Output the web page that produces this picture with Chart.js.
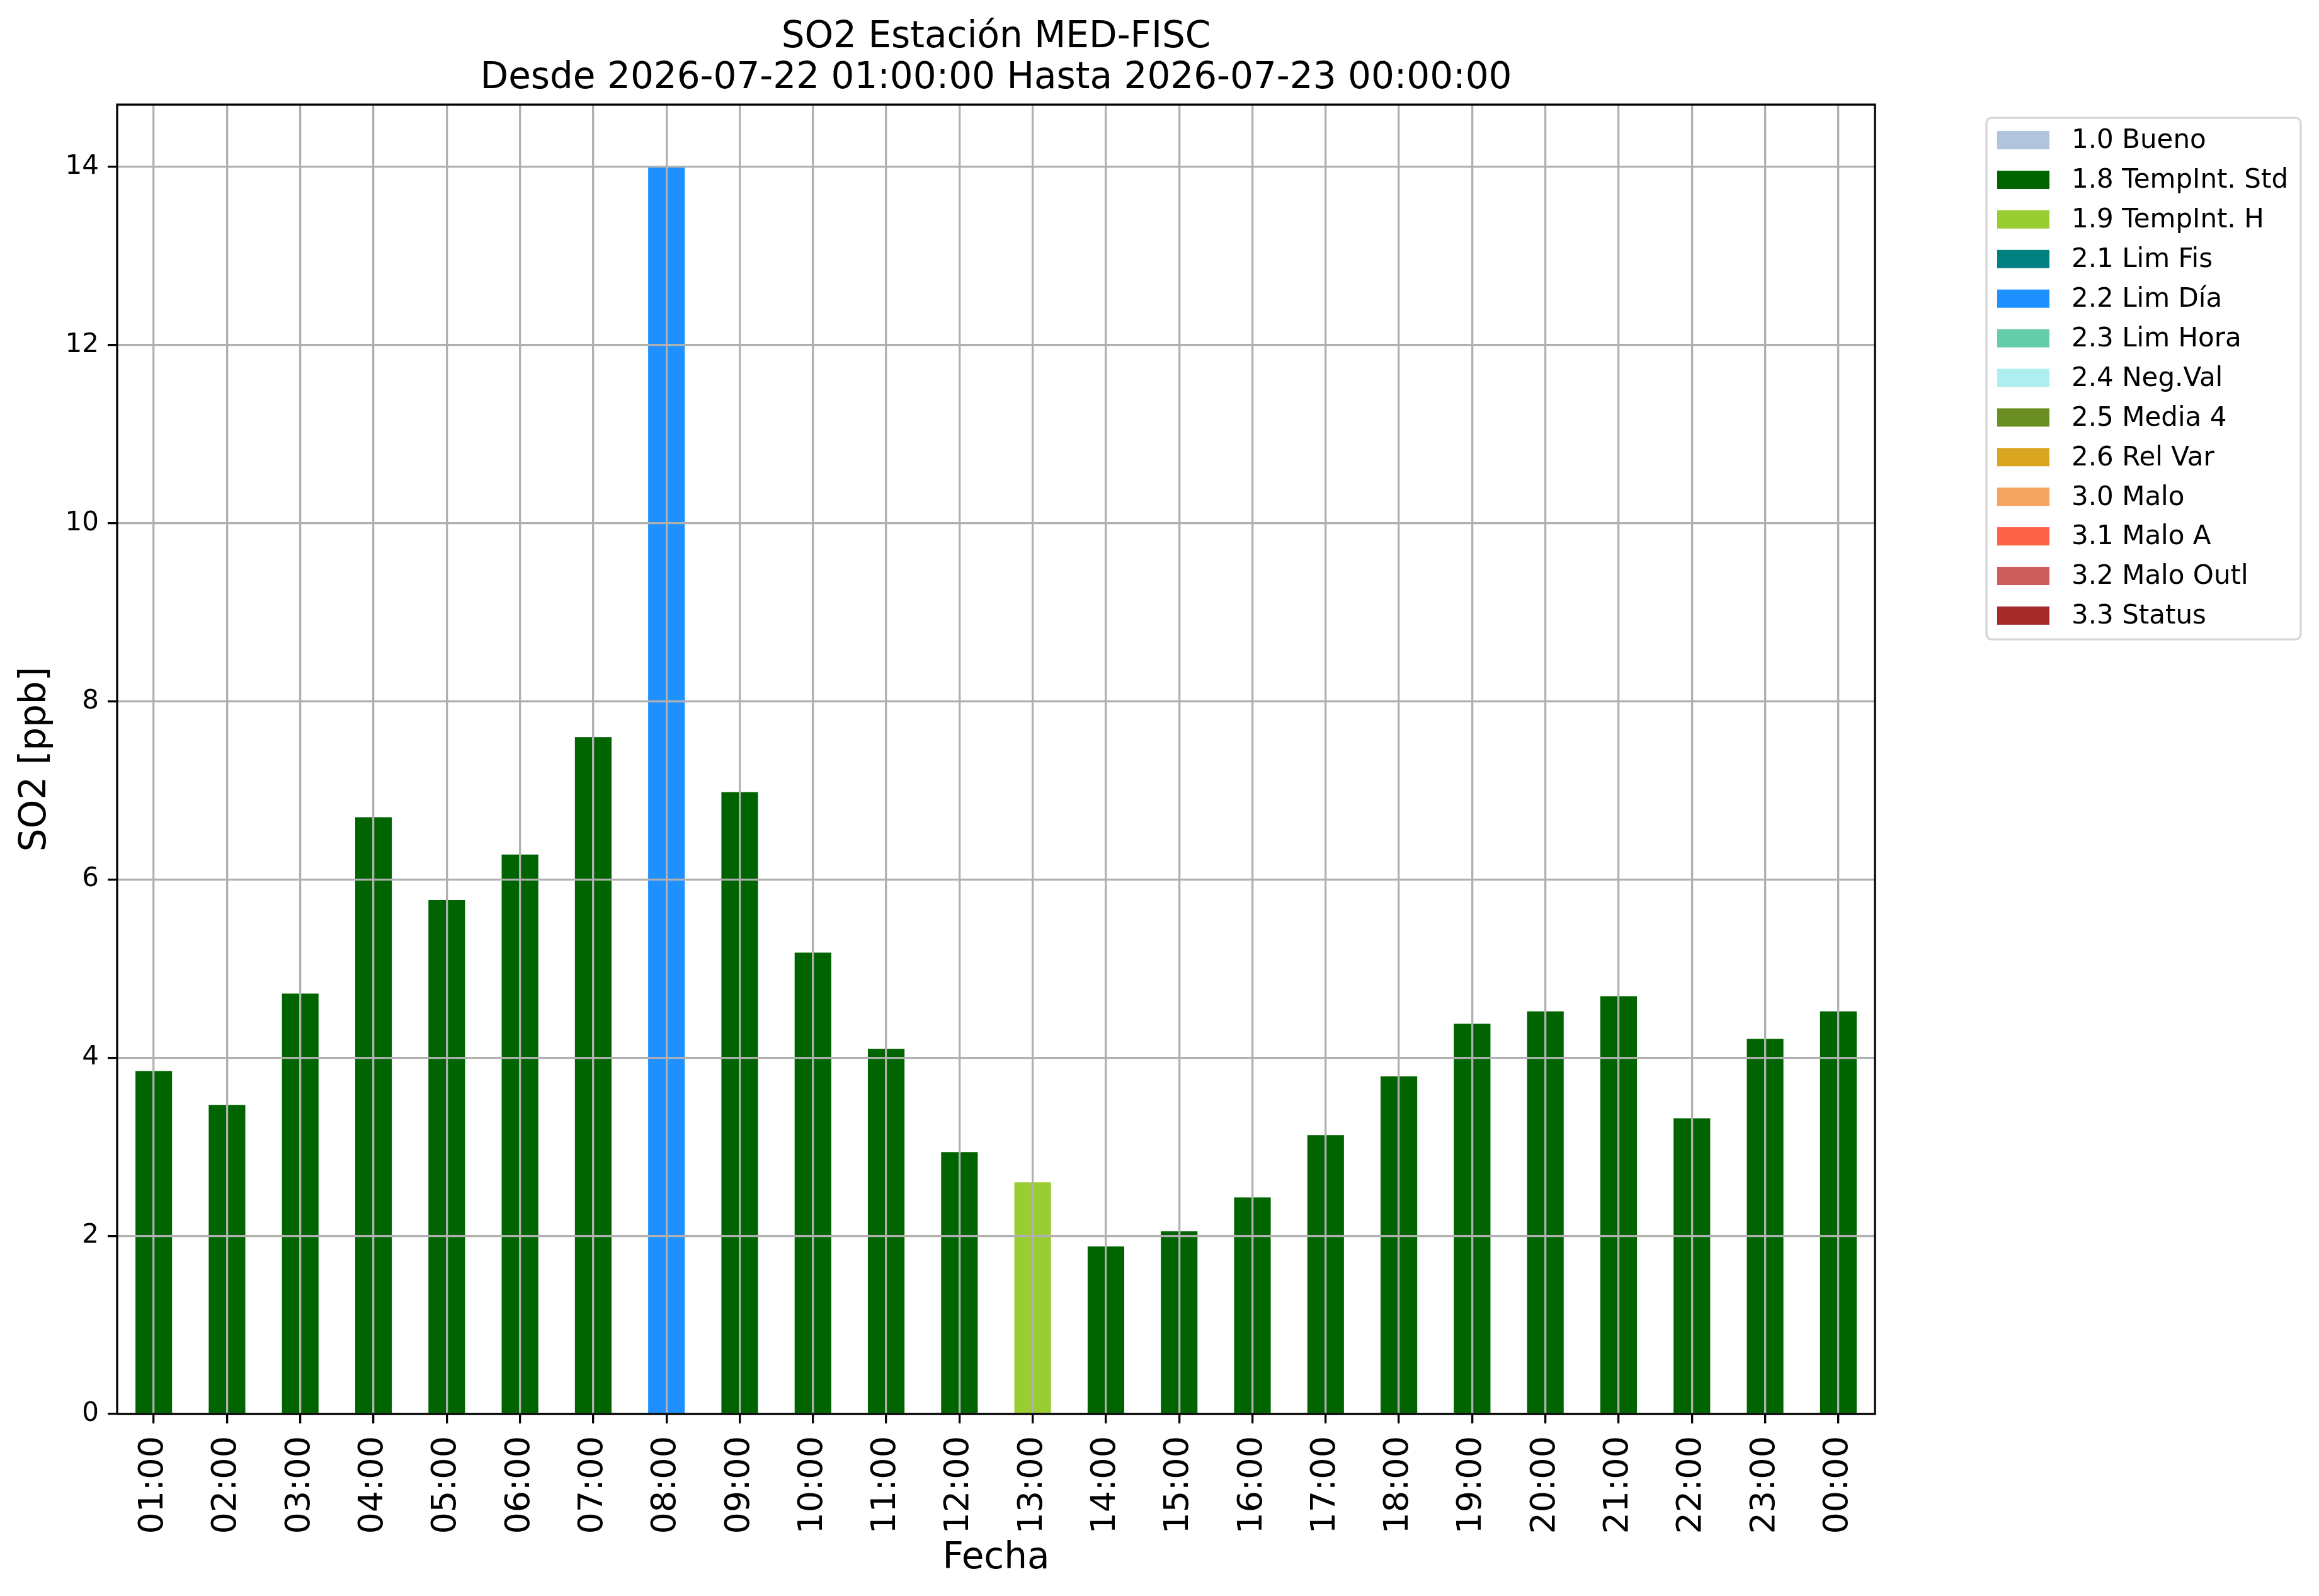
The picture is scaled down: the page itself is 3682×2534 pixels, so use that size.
<!DOCTYPE html>
<html>
<head>
<meta charset="utf-8">
<title>SO2 MED-FISC</title>
<script src="https://cdn.jsdelivr.net/npm/chart.js@4/dist/chart.umd.min.js"></script>
<style>
  html, body { margin: 0; padding: 0; background: #ffffff; }
  #so2Chart { display: block; }
</style>
</head>
<body>
<canvas id="so2Chart" width="3682" height="2534"></canvas>
<script>
// hourly labels for the day
var hours = ["01:00", "02:00", "03:00", "04:00", "05:00", "06:00", "07:00", "08:00",
             "09:00", "10:00", "11:00", "12:00", "13:00", "14:00", "15:00", "16:00",
             "17:00", "18:00", "19:00", "20:00", "21:00", "22:00", "23:00", "00:00"];

// SO2 values in ppb
var so2Values = [3.85, 3.47, 4.72, 6.70, 5.77, 6.28, 7.60, 14.0,
                 6.98, 5.18, 4.10, 2.94, 2.60, 1.88, 2.05, 2.43,
                 3.13, 3.79, 4.38, 4.52, 4.69, 3.32, 4.21, 4.52];

// validation flag of every hour
var so2Flags = ["1.8", "1.8", "1.8", "1.8", "1.8", "1.8", "1.8", "2.2",
                "1.8", "1.8", "1.8", "1.8", "1.9", "1.8", "1.8", "1.8",
                "1.8", "1.8", "1.8", "1.8", "1.8", "1.8", "1.8", "1.8"];

// flag codes, names and colours of the legend
var flagCodes = ["1.0", "1.8", "1.9", "2.1", "2.2", "2.3", "2.4", "2.5", "2.6", "3.0", "3.1", "3.2", "3.3"];
var flagNames = ["Bueno", "TempInt. Std", "TempInt. H", "Lim Fis", "Lim Día", "Lim Hora",
                 "Neg.Val", "Media 4", "Rel Var", "Malo", "Malo A", "Malo Outl", "Status"];
var flagColors = ["#b0c4de", "#006400", "#9acd32", "#008080", "#1e90ff", "#66cdaa",
                  "#afeeee", "#6b8e23", "#daa520", "#f4a460", "#ff6347", "#cd5c5c", "#a52a2a"];

var yTicks = [0, 2, 4, 6, 8, 10, 12, 14];

var FONT = "'DejaVu Sans', 'Liberation Sans', sans-serif";

//one dataset per flag, only the hours with that flag get a value
var datasets = [];
for (var f = 0; f < flagCodes.length; f++) {
    var d = [];
    for (var i = 0; i < so2Values.length; i++) {
        d.push(so2Flags[i] == flagCodes[f] ? so2Values[i] : null);
    }
    datasets.push({
        label: flagCodes[f] + " " + flagNames[f],
        backgroundColor: flagColors[f],
        borderWidth: 0,
        barPercentage: 0.5,
        categoryPercentage: 1.0,
        data: d
    });
}

// white page behind the chart
var whiteBack = {
    id: "whiteBack",
    beforeDraw: function(chart) {
        var ctx = chart.ctx;
        ctx.save();
        ctx.fillStyle = "#ffffff";
        ctx.fillRect(0, 0, chart.width, chart.height);
        ctx.restore();
    }
};

// black frame round the plot and the boxed legend on the right
var frameAndLegend = {
    id: "frameAndLegend",
    afterDraw: function(chart) {
        var ctx = chart.ctx;
        var a = chart.chartArea;
        ctx.save();
        ctx.strokeStyle = "#000000";
        ctx.lineWidth = 3.3;
        ctx.strokeRect(a.left, a.top, a.right - a.left, a.bottom - a.top);

        var boxL = a.right + 177, boxT = a.top + 21;
        var boxW = 499, boxH = 828, r = 8;
        ctx.fillStyle = "rgba(255,255,255,0.8)";
        ctx.strokeStyle = "#d6d6d6";
        ctx.lineWidth = 3.3;
        ctx.beginPath();
        ctx.moveTo(boxL + r, boxT);
        ctx.arcTo(boxL + boxW, boxT, boxL + boxW, boxT + boxH, r);
        ctx.arcTo(boxL + boxW, boxT + boxH, boxL, boxT + boxH, r);
        ctx.arcTo(boxL, boxT + boxH, boxL, boxT, r);
        ctx.arcTo(boxL, boxT, boxL + boxW, boxT, r);
        ctx.closePath();
        ctx.fill();
        ctx.stroke();

        ctx.font = "42px " + FONT;
        ctx.textBaseline = "middle";
        ctx.textAlign = "left";
        var ds = chart.data.datasets;
        for (var k = 0; k < ds.length; k++) {
            var cy = boxT + 35.5 + k * 62.9;
            ctx.fillStyle = ds[k].backgroundColor;
            ctx.fillRect(boxL + 17, cy - 14.5, 83, 29);
            ctx.fillStyle = "#000000";
            ctx.fillText(ds[k].label, boxL + 135, cy + 2);
        }
        ctx.restore();
    }
};

var ctx = document.getElementById("so2Chart");
var so2Chart = new Chart(ctx, {
    type: "bar",
    data: {
        labels: hours,
        datasets: datasets
    },
    plugins: [whiteBack, frameAndLegend],
    options: {
        responsive: false,
        devicePixelRatio: 1,
        animation: false,
        layout: {
            padding: { left: 0, top: 0, right: 705, bottom: 0 }
        },
        plugins: {
            legend: { display: false },
            tooltip: { enabled: false },
            title: {
                display: true,
                fullSize: false,
                text: ["SO2 Estación MED-FISC", "Desde 2026-07-22 01:00:00 Hasta 2026-07-23 00:00:00"],
                color: "#000000",
                font: { family: FONT, size: 58, weight: "normal", lineHeight: 1.13 },
                padding: { top: 27, bottom: 8 }
            }
        },
        scales: {
            x: {
                stacked: true,
                offset: true,
                afterFit: function(scale) { scale.height = 289; },
                grid: {
                    offset: false,
                    color: "#b0b0b0",
                    lineWidth: 3.3,
                    z: 1,
                    tickColor: "#000000",
                    tickWidth: 3.3,
                    tickLength: 15
                },
                border: { display: false },
                ticks: {
                    autoSkip: false,
                    minRotation: 90,
                    maxRotation: 90,
                    padding: 20,
                    color: "#000000",
                    font: { family: FONT, size: 54 }
                },
                title: {
                    display: true,
                    text: "Fecha",
                    color: "#000000",
                    font: { family: FONT, size: 58, lineHeight: 1.2 },
                    padding: { top: 4, bottom: 24 }
                }
            },
            y: {
                stacked: true,
                min: 0,
                max: 14.7,
                afterFit: function(scale) { scale.width = 186; },
                afterBuildTicks: function(scale) {
                    scale.ticks = yTicks.map(function(v) { return { value: v }; });
                },
                grid: {
                    color: "#b0b0b0",
                    lineWidth: 3.3,
                    z: 1,
                    tickColor: "#000000",
                    tickWidth: 3.3,
                    tickLength: 15
                },
                border: { display: false },
                ticks: {
                    padding: 14,
                    color: "#000000",
                    font: { family: FONT, size: 42 }
                },
                title: {
                    display: true,
                    text: "SO2 [ppb]",
                    color: "#000000",
                    font: { family: FONT, size: 58, lineHeight: 1.2 },
                    padding: { top: 22, bottom: 4 }
                }
            }
        }
    }
});
</script>
</body>
</html>
